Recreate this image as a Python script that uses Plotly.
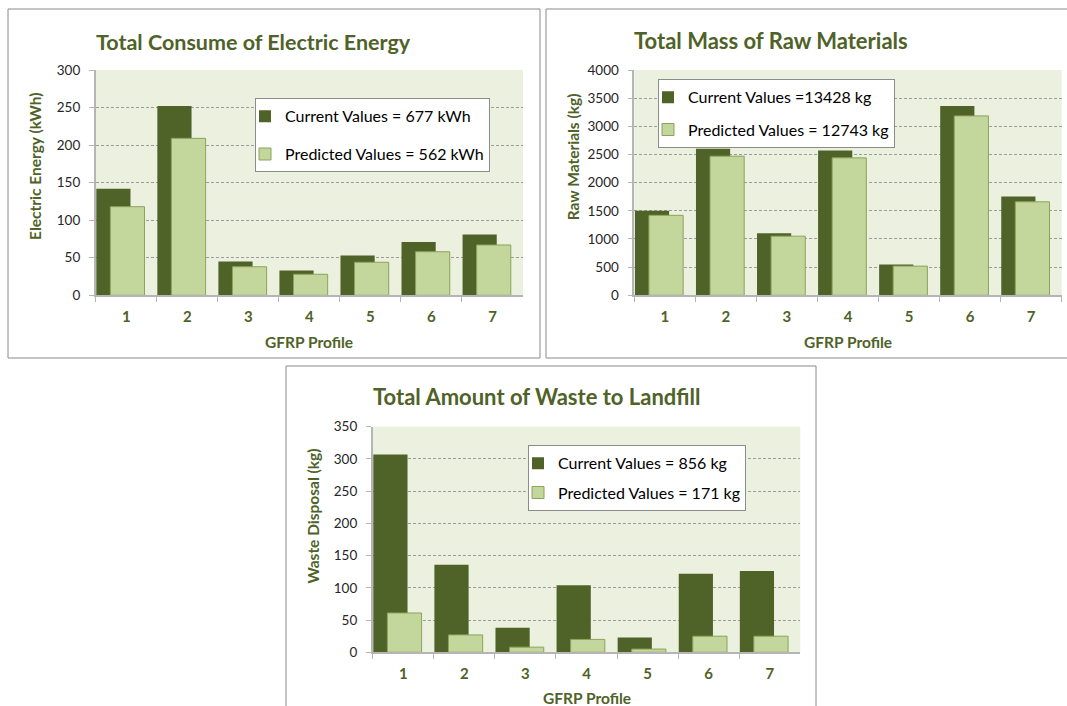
import plotly.graph_objects as go

# ---------------- data ----------------
profiles = ["1", "2", "3", "4", "5", "6", "7"]

energy_current = [142, 252, 45, 33, 53, 71, 81]
energy_predicted = [118, 209, 38, 28, 44, 58, 67]

raw_current = [1500, 2600, 1100, 2570, 545, 3360, 1753]
raw_predicted = [1420, 2470, 1050, 2440, 518, 3185, 1660]

waste_current = [307, 136, 38, 104, 23, 122, 126]
waste_predicted = [61, 27, 8, 20, 5, 25, 25]

titles = ["Total Consume of Electric Energy", "Total Mass of Raw Materials",
          "Total Amount of Waste to Landfill"]
y_titles = ["Electric Energy (kWh)", "Raw Materials (kg)", "Waste Disposal (kg)"]
x_title = "GFRP Profile"
legend_current = ["Current Values = 677 kWh", "Current Values =13428 kg", "Current Values = 856 kg"]
legend_predicted = ["Predicted Values = 562 kWh", "Predicted Values = 12743 kg",
                    "Predicted Values = 171 kg"]
y_ranges = [(0, 300, 50), (0, 4000, 500), (0, 350, 50)]

# ---------------- style ----------------
W, H = 1067, 706
DARK = "#4F6228"
LIGHT = "#C3D69B"
LIGHT_EDGE = "#8CA35C"
PLOT_BG = "#EBF1DE"
GRID = "#9C9C9C"
AXIS = "#B5B5B5"
FONT = "Lato"


def px(x):
    return x / W


def py(y):
    return 1 - y / H


# plot areas in pixels: (left, right, top, bottom)
areas = [(95.7, 523.0, 70.0, 295.3), (634.3, 1061.7, 70.0, 295.3), (372.7, 800.3, 426.7, 652.3)]
# panel frames (left, top, right, bottom)
frames = [(8, 9, 540, 358), (546, 9, 1070, 358), (286, 366, 816, 712)]
# title left / center y
title_pos = [(93.5, 41.7), (632, 40), (371, 396.7)]
title_size = [21.5, 22, 22]
ytitle_pos = [(35, 167), (573.3, 157), (312.6, 516)]
xtitle_y = [341.7, 341.7, 698]
legend_pos = [(255, 98.3, 14), (658, 79.3, 8.5), (528, 445.3, 5.5)]

fig = go.Figure()

series = [(energy_current, energy_predicted), (raw_current, raw_predicted),
          (waste_current, waste_predicted)]

for i, (cur, pred) in enumerate(series):
    sfx = "" if i == 0 else str(i + 1)
    lg = "legend" + sfx
    fig.add_trace(go.Bar(
        x=profiles, y=cur, name=legend_current[i], xaxis="x" + sfx, yaxis="y" + sfx,
        legend=lg, legendgroup=f"c{i}", offset=-0.49, width=0.56,
        marker=dict(color=DARK, line=dict(width=0)), hoverinfo="y"))
    fig.add_trace(go.Bar(
        x=profiles, y=pred, name=legend_predicted[i], xaxis="x" + sfx, yaxis="y" + sfx,
        legend=lg, legendgroup=f"p{i}", offset=-0.26, width=0.56,
        marker=dict(color=LIGHT, line=dict(width=1, color=LIGHT_EDGE)), hoverinfo="y"))

layout = dict(
    width=W, height=H, margin=dict(l=0, r=0, t=0, b=0, autoexpand=False),
    paper_bgcolor="white", plot_bgcolor=PLOT_BG, barmode="overlay",
    font=dict(family=FONT, color="#000000"),
    annotations=[], shapes=[],
)

for i in range(3):
    sfx = "" if i == 0 else str(i + 1)
    l, r, t, b = areas[i]
    ymin, ymax, dt = y_ranges[i]
    layout["xaxis" + sfx] = dict(
        domain=[px(l), px(r)], anchor="y" + sfx, type="category",
        range=[-0.5, 6.5], showgrid=False, showline=True, linecolor=AXIS, linewidth=1.5,
        ticks="outside", tickson="boundaries", ticklen=5, tickcolor=AXIS,
        ticklabelstandoff=7, automargin=False,
        tickfont=dict(family=FONT, size=15, color=DARK, weight="bold"), fixedrange=True)
    layout["yaxis" + sfx] = dict(
        domain=[py(b), py(t)], anchor="x" + sfx, range=[ymin, ymax], dtick=dt,
        tickformat="d", showgrid=True, gridcolor=GRID, gridwidth=1, griddash="3px,2px",
        showline=True, linecolor=AXIS, linewidth=1.5, ticks="outside", ticklen=5,
        tickcolor=AXIS, ticklabelstandoff=6, zeroline=False, automargin=False,
        tickfont=dict(family=FONT, size=13.5, color="#262626"), fixedrange=True)
    lx, ly, gap = legend_pos[i]
    layout["legend" + sfx] = dict(
        x=px(lx), y=py(ly), xanchor="left", yanchor="top", xref="paper", yref="paper",
        bgcolor="white", bordercolor="#8C8C8C", borderwidth=1, indentation=-11,
        traceorder="grouped", tracegroupgap=gap,
        font=dict(family=FONT, size=16, color="#000000"))
    # titles
    tx, ty = title_pos[i]
    layout["annotations"].append(dict(
        text=titles[i], x=px(tx), y=py(ty), xref="paper", yref="paper",
        xanchor="left", yanchor="middle", showarrow=False,
        font=dict(family=FONT, size=title_size[i], color=DARK, weight="bold")))
    yx, yy = ytitle_pos[i]
    layout["annotations"].append(dict(
        text=y_titles[i], x=px(yx), y=py(yy), xref="paper", yref="paper",
        xanchor="center", yanchor="middle", showarrow=False, textangle=-90,
        font=dict(family=FONT, size=15.5, color=DARK, weight="bold")))
    layout["annotations"].append(dict(
        text=x_title, x=px((l + r) / 2), y=py(xtitle_y[i]), xref="paper", yref="paper",
        xanchor="center", yanchor="middle", showarrow=False,
        font=dict(family=FONT, size=15.5, color=DARK, weight="bold")))
    fl, ft, fr, fb = frames[i]
    layout["shapes"].append(dict(
        type="rect", xref="paper", yref="paper", x0=px(fl), x1=px(fr), y0=py(fb), y1=py(ft),
        line=dict(color="#8A8A8A", width=1), fillcolor="rgba(0,0,0,0)", layer="below"))

fig.update_layout(**layout)
fig.write_html("out.html", config={"displayModeBar": False},
               post_script="document.body.style.margin='0px';document.body.style.overflow='hidden';")
